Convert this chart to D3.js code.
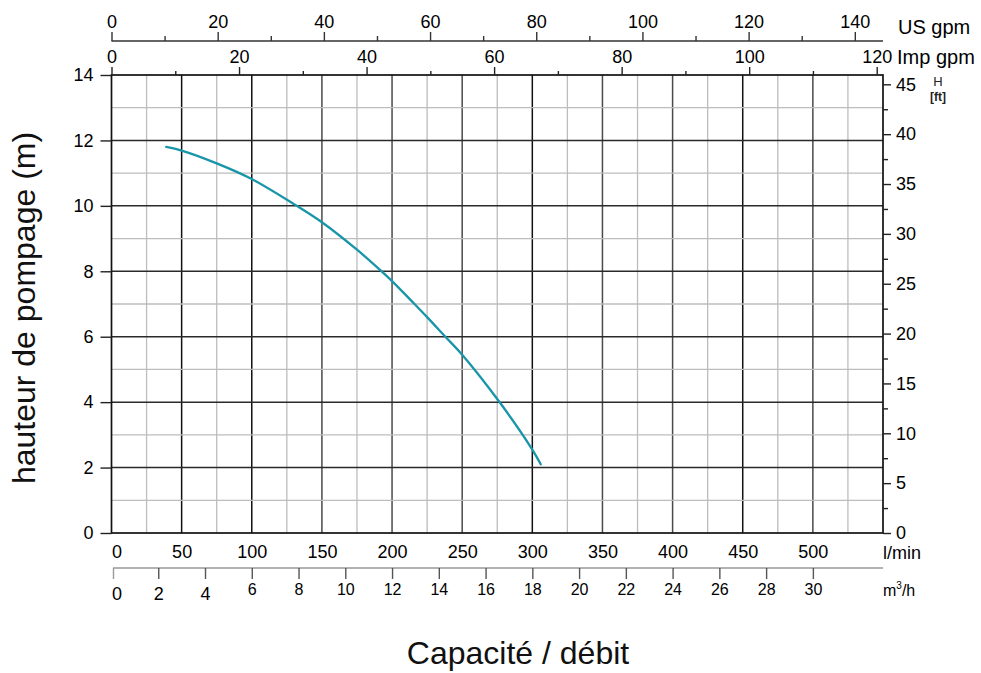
<!DOCTYPE html>
<html>
<head>
<meta charset="utf-8">
<script src="https://cdn.jsdelivr.net/npm/d3@7"></script>
<style>
  body { margin: 0; background: #fff; }
  svg { display: block; font-family: "Liberation Sans", Arial, sans-serif; }
  .ax text { fill: #000; }
</style>
</head>
<body>
<svg id="chart" width="981" height="673"></svg>
<script>
// pump curve
let flowLmin = [39, 50, 75, 100, 131, 150, 175, 192, 200, 216, 225, 238, 250, 277, 300, 306];
let headM    = [11.80, 11.69, 11.30, 10.82, 10.03, 9.50, 8.66, 8.02, 7.70, 7.0, 6.6, 6.0, 5.45, 3.98, 2.55, 2.1];

// tick labels
let lminTicks = [0, 50, 100, 150, 200, 250, 300, 350, 400, 450, 500];
let m3hTicks  = [0, 2, 4, 6, 8, 10, 12, 14, 16, 18, 20, 22, 24, 26, 28, 30];
let usTicks   = [0, 20, 40, 60, 80, 100, 120, 140];
let impTicks  = [0, 20, 40, 60, 80, 100, 120];
let mTicks    = [0, 2, 4, 6, 8, 10, 12, 14];
let ftTicks   = [0, 5, 10, 15, 20, 25, 30, 35, 40, 45];

let svg = d3.select("#chart");
let pLeft = 111.5, pRight = 883, pTop = 75, pBottom = 533;

let x = d3.scaleLinear().domain([0, 550]).range([pLeft, pRight]);
let y = d3.scaleLinear().domain([0, 14]).range([pBottom, pTop]);
// unit conversions share the same pixel range
let xUs  = d3.scaleLinear().domain([0, 550 / 3.785]).range([pLeft, pRight]);
let xImp = d3.scaleLinear().domain([0, 550 / 4.546]).range([pLeft, pRight]);
let xM3h = d3.scaleLinear().domain([0, 550 / 16.667]).range([pLeft, pRight]);
let yFt  = d3.scaleLinear().domain([0, 14 * 3.281]).range([pBottom, pTop]);

// grid
let grid = svg.append("g").attr("class", "grid");
let strongV = [50, 100, 300, 450];
grid.selectAll("line.v")
    .data(d3.range(25, 550, 25))
    .enter().append("line")
    .attr("x1", d => x(d)).attr("x2", d => x(d))
    .attr("y1", pTop).attr("y2", pBottom)
    .attr("stroke", d => d % 50 ? "#bdbdbd" : (strongV.indexOf(d) > -1 ? "#111" : "#4a4a4a"))
    .attr("stroke-width", d => d % 50 ? 1.3 : 1.5);

grid.selectAll("line.h")
    .data(d3.range(1, 14, 1))
    .enter().append("line")
    .attr("x1", pLeft).attr("x2", pRight)
    .attr("y1", d => y(d)).attr("y2", d => y(d))
    .attr("stroke", d => d % 2 ? "#bdbdbd" : "#2a2a2a")
    .attr("stroke-width", d => d % 2 ? 1.3 : 1.5);

// frame
svg.append("rect")
    .attr("x", pLeft).attr("y", pTop)
    .attr("width", pRight - pLeft).attr("height", pBottom - pTop)
    .attr("fill", "none").attr("stroke", "#111").attr("stroke-width", 1.7);

function styleAxis(g, size, col) {
    g.attr("font-family", null).attr("font-size", null).attr("class", "ax");
    g.selectAll("text").style("font-size", size + "px");
    g.selectAll("line").attr("stroke", col || "#222").attr("stroke-width", 1.4);
    g.select(".domain").attr("stroke", col || "#222").attr("stroke-width", 1.4);
}

// left axis (m)
let gl = svg.append("g").attr("transform", "translate(" + pLeft + ",0)")
    .call(d3.axisLeft(y).tickValues(mTicks).tickSize(11).tickPadding(7).tickSizeOuter(0));
styleAxis(gl, 18);
gl.select(".domain").remove();

// right axis (ft)
let gr = svg.append("g").attr("transform", "translate(" + pRight + ",0)")
    .call(d3.axisRight(yFt).tickValues(ftTicks).tickSize(8).tickPadding(5).tickSizeOuter(0));
styleAxis(gr, 18);
gr.select(".domain").remove();
let grm = svg.append("g").attr("transform", "translate(" + pRight + ",0)")
    .call(d3.axisRight(yFt).tickValues(d3.range(2.5, 45, 5)).tickSize(5).tickFormat("").tickSizeOuter(0));
styleAxis(grm, 18);
grm.select(".domain").remove();

svg.append("text").attr("x", 938).attr("y", 86).attr("text-anchor", "middle")
    .style("font-size", "13px").attr("fill", "#222").text("H");
svg.append("text").attr("x", 938).attr("y", 101).attr("text-anchor", "middle")
    .style("font-size", "12px").style("font-weight", "bold").attr("fill", "#222").text("[ft]");

// top: US gpm
let gus = svg.append("g").attr("transform", "translate(0,41)")
    .call(d3.axisTop(xUs).tickValues(usTicks).tickSize(9).tickPadding(4).tickSizeOuter(0));
styleAxis(gus, 18, "#333");
gus.select(".domain").attr("d", "M" + pLeft + ",0H" + pRight);
let gusm = svg.append("g").attr("transform", "translate(0,41)")
    .call(d3.axisTop(xUs).tickValues(d3.range(10, 145, 20)).tickSize(5).tickFormat("").tickSizeOuter(0));
styleAxis(gusm, 18, "#333");
gusm.select(".domain").remove();
svg.append("text").attr("x", 898).attr("y", 34).style("font-size", "20px").attr("fill", "#000").text("US gpm");

// top: Imp gpm
let gimp = svg.append("g").attr("transform", "translate(0," + pTop + ")")
    .call(d3.axisTop(xImp).tickValues(impTicks).tickSize(8).tickPadding(4).tickSizeOuter(0));
styleAxis(gimp, 18);
gimp.select(".domain").remove();
let gimpm = svg.append("g").attr("transform", "translate(0," + pTop + ")")
    .call(d3.axisTop(xImp).tickValues(d3.range(10, 125, 20)).tickSize(4).tickFormat("").tickSizeOuter(0));
styleAxis(gimpm, 18);
gimpm.select(".domain").remove();
svg.append("text").attr("x", 897).attr("y", 64).style("font-size", "20px").attr("fill", "#000").text("Imp gpm");

// bottom: l/min
let gb = svg.append("g").attr("transform", "translate(0," + pBottom + ")")
    .call(d3.axisBottom(x).tickValues(lminTicks).tickSize(0).tickPadding(12));
styleAxis(gb, 18);
gb.select(".domain").remove();
gb.selectAll(".tick text").filter(d => d === 0).attr("text-anchor", "start");
svg.append("text").attr("x", 883).attr("y", 559).style("font-size", "18px").attr("fill", "#000").text("l/min");

// bottom: m3/h
let gm3 = svg.append("g").attr("transform", "translate(0,568)")
    .call(d3.axisBottom(xM3h).tickValues(m3hTicks).tickSize(11).tickPadding(6).tickSizeOuter(0));
styleAxis(gm3, 16, "#555");
gm3.select(".domain").attr("stroke", "#999").attr("d", "M" + (pLeft + 1.5) + ",0H" + pRight);
gm3.selectAll(".tick text").style("font-size", d => (d <= 4 ? 18 : 16) + "px")
    .attr("y", d => d <= 4 ? 19 : 16);
gm3.selectAll(".tick line").filter(d => d === 0).attr("stroke", "#999").attr("transform", "translate(1.5,0)");
gm3.selectAll(".tick text").filter(d => d === 0).attr("text-anchor", "start");
let t3 = svg.append("text").attr("x", 883).attr("y", 596).style("font-size", "16px").attr("fill", "#000");
t3.append("tspan").text("m");
t3.append("tspan").attr("dy", -7).style("font-size", "10px").text("3");
t3.append("tspan").attr("dy", 7).text("/h");

// pump curve
let pts = flowLmin.map((f, i) => [f, headM[i]]);
let line = d3.line()
    .x(d => x(d[0]))
    .y(d => y(d[1]))
    .curve(d3.curveCatmullRom.alpha(0.5));
svg.append("path")
    .datum(pts)
    .attr("d", line)
    .attr("fill", "none")
    .attr("stroke", "#1895a9")
    .attr("stroke-width", 2.3)
    .attr("stroke-linecap", "round");

// titles
svg.append("text")
    .attr("transform", "translate(35,308) rotate(-90)")
    .attr("text-anchor", "middle")
    .style("font-size", "32px")
    .attr("fill", "#111")
    .text("hauteur de pompage (m)");

svg.append("text")
    .attr("x", 518).attr("y", 664)
    .attr("text-anchor", "middle")
    .style("font-size", "32px")
    .attr("fill", "#111")
    .text("Capacité / débit");
</script>
</body>
</html>
